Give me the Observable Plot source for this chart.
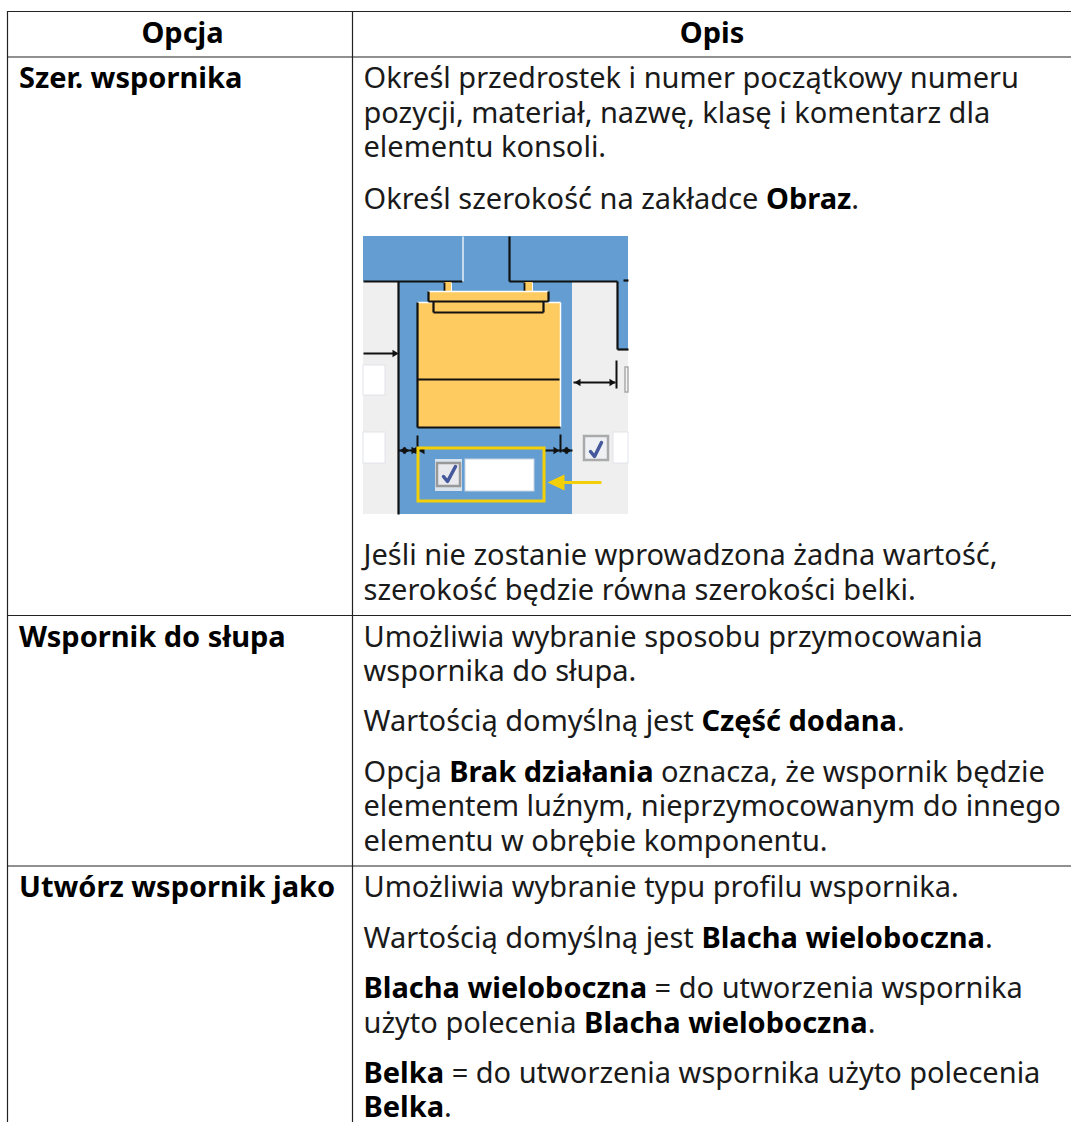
<!DOCTYPE html>
<html><head><meta charset="utf-8">
<script src="https://cdn.jsdelivr.net/npm/d3@7"></script>
<script src="https://cdn.jsdelivr.net/npm/@observablehq/plot@0.6"></script>
<style>html,body{margin:0;padding:0;background:#fff}svg{display:block}</style>
</head><body><div id="c"></div>
<script>
const headers = ["Opcja", "Opis"];
const options = ["Szer. wspornika", "Wspornik do słupa", "Utwórz wspornik jako"];
const descriptions = [
  [["Określ przedrostek i numer początkowy numeru","pozycji, materiał, nazwę, klasę i komentarz dla","elementu konsoli."],
   ["Określ szerokość na zakładce **Obraz**."],
   null,
   ["Jeśli nie zostanie wprowadzona żadna wartość,","szerokość będzie równa szerokości belki."]],
  [["Umożliwia wybranie sposobu przymocowania","wspornika do słupa."],
   ["Wartością domyślną jest **Część dodana**."],
   ["Opcja **Brak działania** oznacza, że wspornik będzie","elementem luźnym, nieprzymocowanym do innego","elementu w obrębie komponentu."]],
  [["Umożliwia wybranie typu profilu wspornika."],
   ["Wartością domyślną jest **Blacha wieloboczna**."],
   ["**Blacha wieloboczna** = do utworzenia wspornika","użyto polecenia **Blacha wieloboczna**."],
   ["**Belka** = do utworzenia wspornika użyto polecenia","**Belka**."]]
];

const W = 1071, H = 1122;
const font = "Noto Sans", fs = 29;
const ink = "#1a1a1a";
const grid = {left:7, mid:352, top:11, head:56.5, rows:[615,865.5]};
const LH = 34.35, PARA = [52,50.5,50.5], IMG_H = 356.3;
const rowStart = [87.7, 646, 896.7];
const lines = [];
descriptions.forEach((paras,r)=>{
  let y = rowStart[r];
  lines.push({x:18.5,y:rowStart[r],t:`**${options[r]}**`});
  paras.forEach((p,i)=>{
    if(p===null){ y += IMG_H - PARA[r]; return; }
    p.forEach((l,j)=>{ lines.push({x:363,y,t:l}); if(j<p.length-1) y+=LH; });
    y += PARA[r];
  });
});

// schematic image (page pixels)
const blue="#639dd1", orange="#fdcb60", grey="#efefef", k="#111", yel="#f3cf08";
const ix0=363, ix1=628, iy0=236, iy1=514;
const blur = "blur(0.5px)";
const R=(a,o={})=>Plot.rect(a,{x1:"a",x2:"b",y1:"c",y2:"d",imageFilter:blur,...o});
const seg=(a,c,w)=>Plot.link(a,{x1:d=>d[0],y1:d=>d[1],x2:d=>d[2],y2:d=>d[3],stroke:c,strokeWidth:w,imageFilter:blur});
const poly=(pts,c)=>Plot.line(pts,{x:d=>d[0],y:d=>d[1],fill:c,stroke:"none",curve:"linear-closed",imageFilter:blur});
const hR=(x,y,s=6,h=3.8)=>poly([[x,y],[x-s,y-h],[x-s,y+h]],k), hL=(x,y,s=6,h=3.8)=>poly([[x,y],[x+s,y-h],[x+s,y+h]],k);

const imgMarks=[
 R([{a:ix0,b:ix1,c:iy0,d:iy1}],{fill:grey}),
 R([{a:398,b:572,c:iy0,d:iy1},{a:ix0,b:462,c:iy0,d:281},{a:509,b:ix1,c:iy0,d:281},{a:617,b:ix1,c:281,d:349}],{fill:blue}),
 seg([[363,281,462,281],[398,281,398,514],[509,236,509,281],[509,281,617,281],[617,281,617,349],[617,349,628,349],[623,280,628,280]],k,2.2),
 seg([[462.5,236,462.5,281]],"#e8f0f8",1.5),
 // stems
 R([{a:444,b:451,c:282,d:291},{a:524,b:532,c:282,d:291}],{fill:orange}),
 seg([[444,282,444,291],[524,282,524,291]],k,1.8),
 seg([[451,282,451,291],[532,282,532,291]],"#fff",1),
 // body
 R([{a:417,b:560,c:302,d:427}],{fill:orange}),
 seg([[417,302,560,302],[560,302,560,427]],"#fff",1.5),
 seg([[417,302,417,427],[417,427,560,427],[417,379,559,379]],k,2.2),
 // plates
 R([{a:428,b:548,c:291,d:301},{a:433,b:543,c:301,d:311}],{fill:orange}),
 seg([[428,291,548,291]],"#fff",1.5),
 seg([[428,291,428,301],[548,291,548,301],[428,301,548,301],[433,301,433,312],[543,301,543,312],[433,312,543,312]],k,2.2),
 // inputs
 R([{a:ix0,b:385,c:365,d:395},{a:ix0,b:385,c:432,d:463},{a:613,b:ix1,c:432,d:463}],{fill:"#fff",stroke:"#e2e4ea",strokeWidth:1}),
 R([{a:625,b:ix1,c:367,d:392}],{fill:"#f4f4f4",stroke:"#aaa",strokeWidth:1.5}),
 R([{a:584,b:608,c:436,d:460}],{fill:"#eef0f4",stroke:"#aaa",strokeWidth:2.5}),
 // dimensions
 seg([[363,353,396,353],[573,382,615,382],[616,360,616,388],[398,450,417,450],[417,435,417,452],[560,434,560,452],[544,450,572,450],[418,450,423,450]],k,2),
 hR(398,353),hR(615,382),hL(574,382),hL(399,450),hR(409,450),hL(410,450),hR(417,450),hL(418,450),hR(559,450),hL(561,450),hR(571,450),
 // yellow frame
 R([{a:418,b:544,c:448,d:501}],{fill:"none",stroke:yel,strokeWidth:3}),
 // checkbox and field
 R([{a:435,b:462,c:459,d:491}],{fill:"#d9e3ee"}),
 R([{a:437,b:460,c:463,d:486}],{fill:"#e8eaee",stroke:"#999",strokeWidth:2.5}),
 R([{a:465,b:534,c:459,d:491}],{fill:"#fff",stroke:"#c8d4e2",strokeWidth:1}),
 Plot.line([[443,476],[447,481],[455,466]],{x:d=>d[0],y:d=>d[1],stroke:"#46589c",strokeWidth:3.5,curve:"linear",imageFilter:blur}),
 Plot.line([[590,451],[594,456],[601,442]],{x:d=>d[0],y:d=>d[1],stroke:"#46589c",strokeWidth:3.5,curve:"linear",imageFilter:blur}),
 // yellow arrow
 seg([[560,482,601,482]],yel,3),
 poly([[547,482],[564,474],[564,490]],yel)
];

const chart = Plot.plot({
  width:W,height:H,margin:0,
  x:{domain:[0,W],range:[0,W],axis:null},
  y:{domain:[0,H],range:[0,H],axis:null},
  style:{fontFamily:font,background:"#fff"},
  marks:[
    ...imgMarks,
    Plot.ruleY([grid.top,grid.head,...grid.rows],{x1:grid.left,x2:W,stroke:"#222",strokeWidth:1.2}),
    Plot.ruleX([grid.left,grid.mid],{y1:grid.top,y2:H,stroke:"#222",strokeWidth:1.2}),
    Plot.text(headers,{x:(d,i)=>i?711.5:182,y:42,text:d=>d,fontSize:fs,fontWeight:700,fill:"#000",textAnchor:"middle",lineAnchor:"bottom"}),
    Plot.text(lines,{x:"x",y:"y",text:"t",fontSize:fs,fill:ink,textAnchor:"start",lineAnchor:"bottom"})
  ]
});
// turn **bold** runs into bold tspans, one text element per line
chart.querySelectorAll("text").forEach(t=>{
  const s=t.textContent; if(!s.includes("**")) return;
  t.textContent="";
  s.split("**").forEach((part,i)=>{ if(!part) return;
    const sp=document.createElementNS("http://www.w3.org/2000/svg","tspan");
    sp.textContent=part; if(i%2){sp.setAttribute("font-weight","700");sp.setAttribute("fill","#000");} t.appendChild(sp);});
});
document.getElementById("c").appendChild(chart);
</script></body></html>
